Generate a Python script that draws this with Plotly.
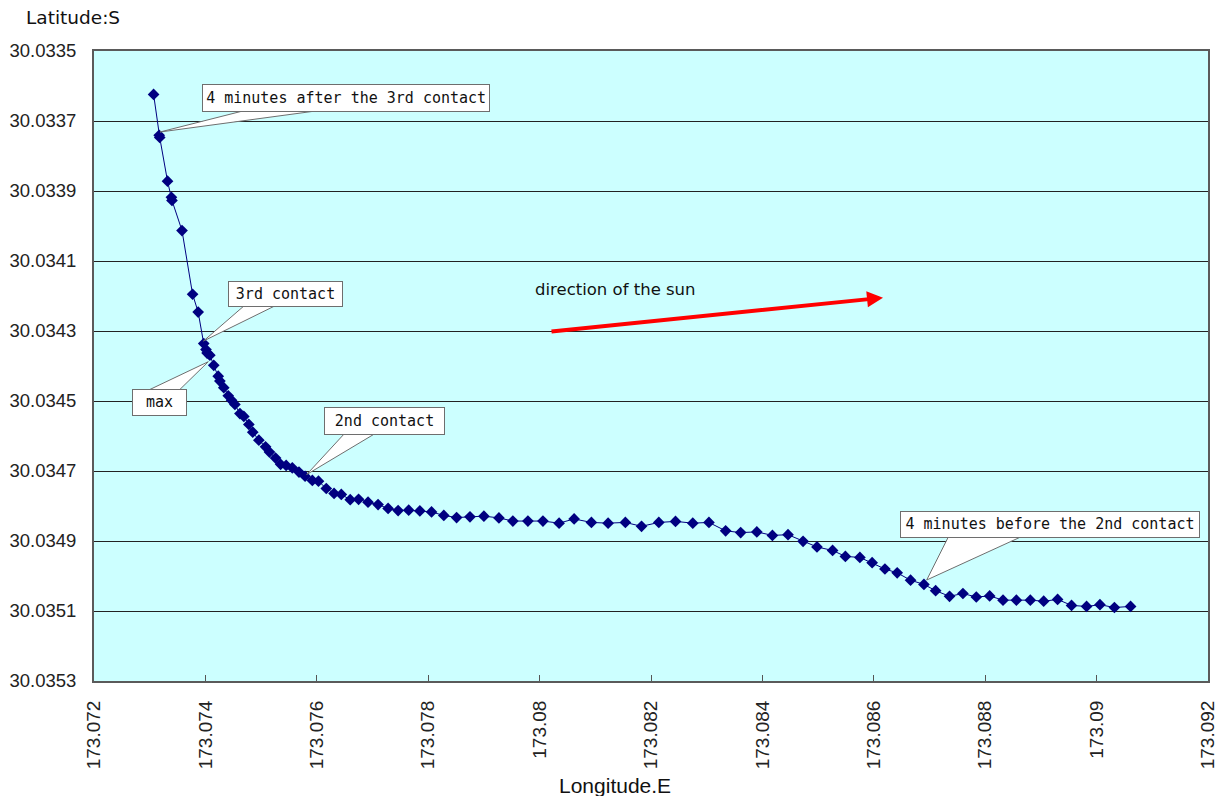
import plotly.graph_objects as go

# ---------------- data ----------------
longitude_e = [
    173.07307, 173.07317, 173.07318, 173.07332, 173.07339, 173.07340, 173.07358, 173.07377,
    173.07387, 173.07397, 173.07401, 173.07403, 173.07408, 173.07415, 173.07423, 173.07426,
    173.07433, 173.07441, 173.07447, 173.07453, 173.07462, 173.07469, 173.07478, 173.07485,
    173.07496, 173.07508, 173.07515, 173.07526, 173.07535, 173.07545, 173.07556, 173.07568,
    173.07579, 173.07592, 173.07603, 173.07617, 173.07631, 173.07644, 173.07660, 173.07675,
    173.07692, 173.07710, 173.07728, 173.07746, 173.07765, 173.07785, 173.07806, 173.07828,
    173.07851, 173.07875, 173.07900, 173.07927, 173.07952, 173.07979, 173.08006, 173.08035,
    173.08062, 173.08093, 173.08123, 173.08154, 173.08183, 173.08214, 173.08244, 173.08275,
    173.08304, 173.08334, 173.08361, 173.08390, 173.08418, 173.08446, 173.08473, 173.08498,
    173.08526, 173.08549, 173.08575, 173.08597, 173.08620, 173.08642, 173.08666, 173.08690,
    173.08711, 173.08736, 173.08760, 173.08784, 173.08808, 173.08832, 173.08856, 173.08881,
    173.08905, 173.08930, 173.08955, 173.08982, 173.09006, 173.09032, 173.09061,
]
latitude_s = [
    30.033624, 30.033741, 30.033747, 30.033872, 30.033918, 30.033927, 30.034013, 30.034195,
    30.034246, 30.034336, 30.034353, 30.034363, 30.034369, 30.034398, 30.034429, 30.034443,
    30.034462, 30.034485, 30.034498, 30.034510, 30.034536, 30.034544, 30.034567, 30.034589,
    30.034612, 30.034631, 30.034646, 30.034663, 30.034681, 30.034684, 30.034691, 30.034703,
    30.034715, 30.034727, 30.034729, 30.034750, 30.034764, 30.034767, 30.034782, 30.034781,
    30.034789, 30.034796, 30.034807, 30.034813, 30.034812, 30.034814, 30.034817, 30.034827,
    30.034833, 30.034831, 30.034829, 30.034834, 30.034843, 30.034843, 30.034843, 30.034849,
    30.034837, 30.034847, 30.034849, 30.034847, 30.034858, 30.034847, 30.034844, 30.034849,
    30.034847, 30.034871, 30.034876, 30.034874, 30.034884, 30.034882, 30.034901, 30.034917,
    30.034927, 30.034944, 30.034947, 30.034962, 30.034980, 30.034991, 30.035012, 30.035024,
    30.035042, 30.035058, 30.035050, 30.035060, 30.035057, 30.035069, 30.035069, 30.035069,
    30.035072, 30.035067, 30.035084, 30.035087, 30.035082, 30.035090, 30.035087,
]

x_tick_vals = [173.072, 173.074, 173.076, 173.078, 173.080, 173.082,
               173.084, 173.086, 173.088, 173.090, 173.092]
x_tick_text = ["173.072", "173.074", "173.076", "173.078", "173.08", "173.082",
               "173.084", "173.086", "173.088", "173.09", "173.092"]
y_tick_vals = [30.0335, 30.0337, 30.0339, 30.0341, 30.0343,
               30.0345, 30.0347, 30.0349, 30.0351, 30.0353]
y_tick_text = ["30.0335", "30.0337", "30.0339", "30.0341", "30.0343",
               "30.0345", "30.0347", "30.0349", "30.0351", "30.0353"]

callout_texts = ["4 minutes after the 3rd contact", "3rd contact", "max",
                 "2nd contact", "4 minutes before the 2nd contact"]

# ---------------- layout geometry ----------------
W, H = 1218, 796
M = dict(l=94, r=10, t=51, b=115)
PW, PH = W - M["l"] - M["r"], H - M["t"] - M["b"]
X_RANGE = [173.072, 173.092]
Y_TOP, Y_BOT = 30.0335, 30.0353


def px2x(px):
    return X_RANGE[0] + (px - M["l"]) / PW * (X_RANGE[1] - X_RANGE[0])


def py2y(py):
    return Y_TOP + (py - M["t"]) / PH * (Y_BOT - Y_TOP)


def pxp(px):
    return (px - M["l"]) / PW


def pyp(py):
    return 1 - (py - M["t"]) / PH


# callout geometry in pixels: box (x0, y0, x1, y1), wedge base (bx0, bx1, by), tip (tx, ty)
callout_geom = [
    ((201.7, 84, 490, 112), (246.7, 323, 110), (160, 132)),
    ((228, 280.7, 343, 307), (245, 276.7, 305), (203.5, 341)),
    ((132.3, 389.3, 187.3, 416), (146.7, 178.3, 391), (208.3, 361.7)),
    ((324, 406.7, 445, 435), (345, 376, 433), (306.7, 474.5)),
    ((900, 510.7, 1200, 537.3), (949.3, 1025, 535), (926.7, 580)),
]

fig = go.Figure()
fig.add_trace(go.Scatter(
    x=longitude_e, y=latitude_s, mode="lines+markers",
    line=dict(color="#000080", width=1),
    marker=dict(symbol="diamond", size=9, color="#000080"),
    showlegend=False, hoverinfo="x+y",
))

shapes = []
annotations = []
for text, (box, base, tip) in zip(callout_texts, callout_geom):
    x0, y0, x1, y1 = box
    bx0, bx1, by = base
    tx, ty = tip
    path = (f"M {px2x(bx0):.7f},{py2y(by):.8f} L {px2x(tx):.7f},{py2y(ty):.8f} "
            f"L {px2x(bx1):.7f},{py2y(by):.8f} Z")
    shapes.append(dict(type="path", xref="x", yref="y", path=path,
                       fillcolor="white", line=dict(color="#6e6e6e", width=1),
                       layer="above"))
    annotations.append(dict(
        x=px2x((x0 + x1) / 2), y=py2y((y0 + y1) / 2), xref="x", yref="y",
        text=text, showarrow=False, bgcolor="white", bordercolor="#6e6e6e",
        borderwidth=1, borderpad=2, width=(x1 - x0) - 6, height=(y1 - y0) - 6,
        align="center", xanchor="center", yanchor="middle",
        font=dict(family="DejaVu Sans Mono", size=15, color="#111111"),
    ))

# direction of the sun arrow
annotations.append(dict(
    x=px2x(883), y=py2y(297.7), ax=px2x(550), ay=py2y(331.7),
    xref="x", yref="y", axref="x", ayref="y", text="", showarrow=True,
    arrowhead=2, arrowsize=0.8, arrowwidth=4, arrowcolor="#ff0000",
))
annotations.append(dict(
    x=px2x(533), y=py2y(289.5), xref="x", yref="y", text="direction of the sun",
    showarrow=False, xanchor="left", yanchor="middle",
    font=dict(family="DejaVu Sans", size=16.5, color="#111111"),
))

# axis titles
annotations.append(dict(
    x=pxp(24), y=pyp(18), xref="paper", yref="paper", text="Latitude:S",
    showarrow=False, xanchor="left", yanchor="middle",
    font=dict(family="DejaVu Sans", size=18.5, color="#111111"),
))
annotations.append(dict(
    x=pxp(614.5), y=pyp(785), xref="paper", yref="paper", text="Longitude.E",
    showarrow=False, xanchor="center", yanchor="middle",
    font=dict(family="Liberation Sans Narrow, Liberation Sans", size=21, color="#111111"),
))

fig.update_layout(
    width=W, height=H, margin=M,
    paper_bgcolor="white", plot_bgcolor="#ccffff",
    shapes=shapes, annotations=annotations,
    xaxis=dict(
        range=X_RANGE, tickvals=x_tick_vals, ticktext=x_tick_text,
        tickangle=-90, ticks="inside", ticklen=6, tickcolor="#555555",
        showgrid=False, zeroline=False, automargin=False,
        ticklabeloverflow="allow",
        showline=True, linecolor="#5a5a5a", linewidth=2, mirror=True,
        tickfont=dict(family="Liberation Sans", size=19, color="#222222"),
        ticklabelstandoff=10,
    ),
    yaxis=dict(
        range=[Y_BOT, Y_TOP], tickvals=y_tick_vals, ticktext=y_tick_text,
        showgrid=True, gridcolor="#222222", gridwidth=1, zeroline=False,
        automargin=False, ticklabeloverflow="allow",
        showline=True, linecolor="#5a5a5a", linewidth=2, mirror=True,
        ticks="", tickfont=dict(family="Liberation Sans", size=18.5, color="#222222"),
        ticklabelstandoff=12,
    ),
    font=dict(family="Liberation Sans"),
)

fig.write_html("out.html", config={"displayModeBar": False},
               post_script="document.body.style.margin='0';")
